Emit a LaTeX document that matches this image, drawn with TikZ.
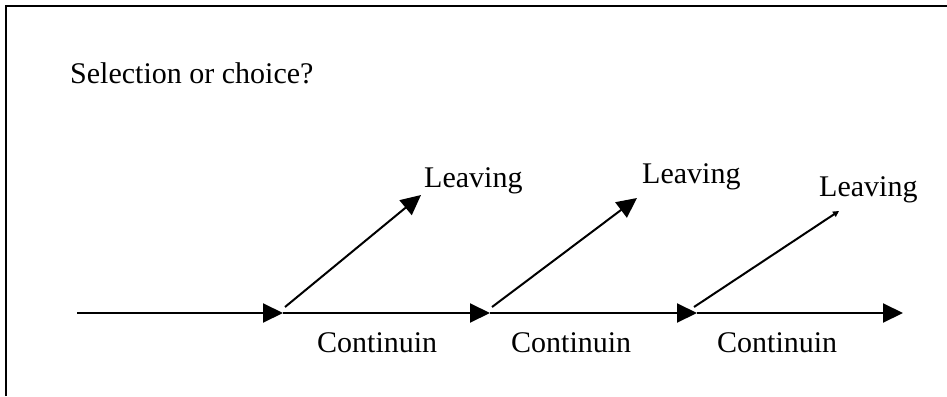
\documentclass[tikz,border=0pt]{standalone}
\usepackage{fontspec}
\setmainfont{Liberation Serif}
\usetikzlibrary{arrows.meta}

\begin{document}
\begin{tikzpicture}[
  x=1pt, y=-1pt,
  font=\fontsize{30}{36}\selectfont,
  lbl/.style={inner sep=0pt, anchor=base west},
  frame/.style={line width=1.6pt},
  arrow/.style={-{Triangle[length=20pt, width=19pt]}, line width=2pt},
  tiny/.style={-{Triangle[length=6pt, width=6pt]}, line width=2pt},
]
  \useasboundingbox (0,0) rectangle (947,396);
  \draw[frame] (6,396) -- (6,6) -- (947,6);

  \node[lbl] (title) at (70,83) {Selection or choice?};

  % main line
  \coordinate (start) at (77,313);
  \coordinate (j1) at (283,313);
  \coordinate (j2) at (490,313);
  \coordinate (j3) at (697,313);
  \coordinate (end) at (903,313);
  \draw[arrow] (start) -- (j1);
  \draw[arrow] (j1) -- (j2);
  \draw[arrow] (j2) -- (j3);
  \draw[arrow] (j3) -- (end);

  \node[lbl] (cont1) at (317,352) {Continuin};
  \node[lbl] (cont2) at (511,352) {Continuin};
  \node[lbl] (cont3) at (717,352) {Continuin};

  % leaving branches
  \node[lbl] (leave1) at (424,187) {Leaving};
  \node[lbl] (leave2) at (642,183) {Leaving};
  \node[lbl] (leave3) at (819,196) {Leaving};
  \coordinate (t1) at (421,195);
  \coordinate (t2) at (637,198);
  \coordinate (t3) at (839,211);
  \draw[arrow] ([shift={(2,-6)}]j1) -- (t1);
  \draw[arrow] ([shift={(2,-6)}]j2) -- (t2);
  \draw[tiny] ([shift={(-3,-6)}]j3) -- (t3);
\end{tikzpicture}
\end{document}
